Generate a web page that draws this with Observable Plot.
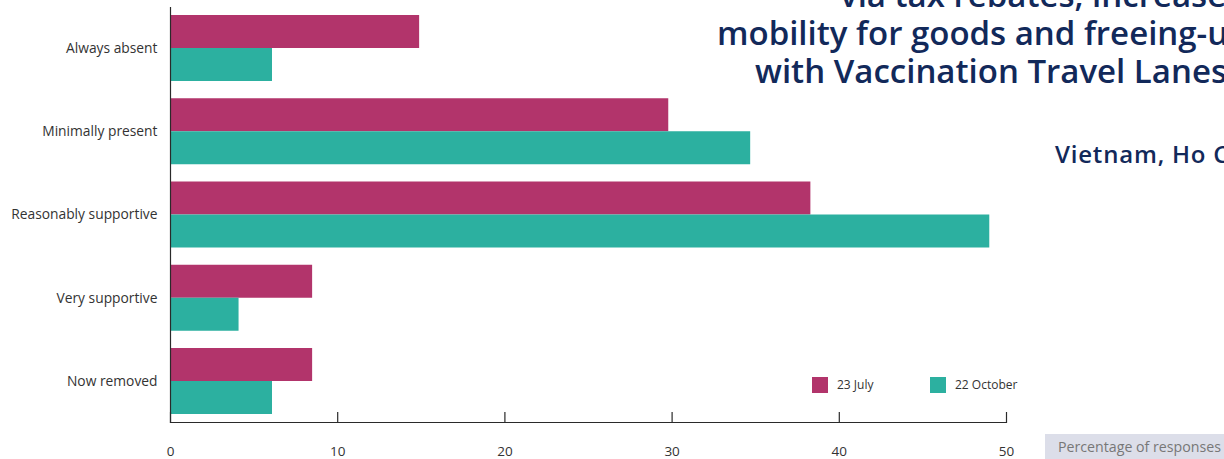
<!DOCTYPE html>
<html><head><meta charset="utf-8">
<script src="https://cdn.jsdelivr.net/npm/d3@7"></script>
<script src="https://cdn.jsdelivr.net/npm/@observablehq/plot@0.6"></script>
<style>
body{margin:0;background:#fff;}
#wrap{position:relative;width:1224px;height:459px;overflow:hidden;}
#overlay{position:absolute;left:0;top:0;pointer-events:none;}
</style></head><body><div id="wrap"></div>
<script>
const categories = ["Always absent","Minimally present","Reasonably supportive","Very supportive","Now removed"];
const series = ["23 July","22 October"];
const july = [14.9, 29.8, 38.3, 8.5, 8.5];
const october = [6.1, 34.7, 49.0, 4.1, 6.1];
const xTicks = [0,10,20,30,40,50];
const colors = ["#B2346B","#2CB0A0"];
const titleLines = ["via tax rebates, increase","mobility for goods and freeing-u","with Vaccination Travel Lanes"];
const subtitle = "Vietnam, Ho C";
const axisLabel = "Percentage of responses";

const rows = categories.flatMap((c,i)=>[
  {category:c, series:series[0], value:july[i]},
  {category:c, series:series[1], value:october[i]}
]);

const font = "'Open Sans', sans-serif";
const chart = Plot.plot({
  width:1224, height:459,
  marginTop:7, marginBottom:37, marginLeft:170, marginRight:218,
  style:{fontFamily:font, fontSize:"13.8px", color:"#333", background:"#fff"},
  x:{domain:[0,50]},
  y:{domain:categories, range:[15,414], paddingInner:0.2072, paddingOuter:0, round:false},
  color:{domain:series, range:colors},
  marks:[
    Plot.barX(rows.filter(d=>d.series===series[0]), {x:"value", y:"category", fill:"series", insetBottom:33}),
    Plot.barX(rows.filter(d=>d.series===series[1]), {x:"value", y:"category", fill:"series", insetTop:33}),
    Plot.frame({anchor:"left", stroke:"#2a2a2a", strokeWidth:1.2}),
    Plot.frame({anchor:"bottom", stroke:"#2a2a2a", strokeWidth:1.2}),
    Plot.ruleX(xTicks, {x:d=>d, insetTop:405, stroke:"#2a2a2a", strokeWidth:1.2}),
    Plot.axisX(xTicks, {tickSize:0, tickPadding:24, label:null, fontSize:13.5}),
    Plot.axisY({tickSize:0, tickPadding:13, label:null, fontSize:13.8})
  ]
});
const wrap = document.getElementById("wrap");
wrap.appendChild(chart);

const svg = d3.select(wrap).append("svg").attr("id","overlay").attr("width",1224).attr("height",459)
  .style("font-family", font);
const titleX = [840, 717, 755];
const titleY = [7, 45, 83];
titleLines.forEach((t,i)=>{
  svg.append("text").attr("x",titleX[i]).attr("y",titleY[i]).attr("fill","#12295A")
    .attr("font-size",33).attr("font-weight",600).text(t);
});
svg.append("text").attr("x",1055).attr("y",163).attr("fill","#12295A")
  .attr("font-size",24).attr("font-weight",600).attr("letter-spacing",0.8).text(subtitle);

// legend
const legX = [812, 930];
series.forEach((s,i)=>{
  svg.append("rect").attr("x",legX[i]).attr("y",377).attr("width",16).attr("height",16).attr("fill",colors[i]);
  svg.append("text").attr("x",legX[i]+25).attr("y",389).attr("fill","#333").attr("font-size",12).text(s);
});

// axis label box
svg.append("rect").attr("x",1045).attr("y",434).attr("width",190).attr("height",30).attr("fill","#DCDEE9");
svg.append("text").attr("x",1058).attr("y",452).attr("fill","#777").attr("font-size",14.2).text(axisLabel);
</script></body></html>
